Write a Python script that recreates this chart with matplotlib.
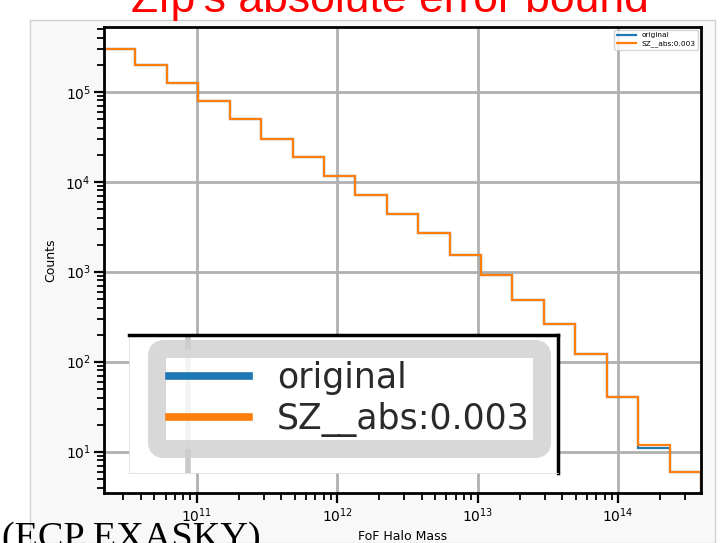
import numpy as np
import matplotlib
matplotlib.use("Agg")
import matplotlib.pyplot as plt
from matplotlib.patches import Rectangle
from matplotlib.lines import Line2D

# ---------------- data ----------------
series_names = ["original", "SZ__abs:0.003"]
log_mass_min, log_mass_max, n_bins = 10.34, 14.59, 19
counts_original = [2.98e5, 1.98e5, 1.25e5, 7.9e4, 4.98e4, 2.98e4, 1.87e4, 1.16e4,
                   7.1e3, 4.4e3, 2.67e3, 1.53e3, 920, 485, 262, 121, 40.6, 10.9, 5.9]
counts_sz = [2.98e5, 1.98e5, 1.25e5, 7.9e4, 4.98e4, 2.98e4, 1.87e4, 1.16e4,
             7.1e3, 4.4e3, 2.67e3, 1.53e3, 920, 485, 262, 123, 40.6, 11.9, 5.9]
title_text = "Zfp's absolute error bound"
footer_text = "(ECP EXASKY)"
x_label = "FoF Halo Mass"
y_label = "Counts"

edges = np.logspace(log_mass_min, log_mass_max, n_bins + 1)

W, H = 720, 543
fig = plt.figure(figsize=(W / 100, H / 100), dpi=100)
fig.patch.set_facecolor("white")

def fx(px):
    return px / W

def fy(py):
    return 1 - py / H

# chart image background/border
bg = Rectangle((fx(30), fy(543)), fx(715) - fx(30), fy(20) - fy(543),
               transform=fig.transFigure, facecolor="#f8f8f8",
               edgecolor="#d0d0d0", lw=1.0, zorder=-10)
fig.patches.append(bg)

ax = fig.add_axes([fx(104), fy(493), fx(701) - fx(104), fy(27) - fy(493)])
ax.set_facecolor("white")
ax.set_xscale("log")
ax.set_yscale("log")

colors = ["#1f77b4", "#ff7f0e"]
ax.stairs(counts_original, edges, baseline=1, color=colors[0], lw=1.6, label=series_names[0])
ax.stairs(counts_sz, edges, baseline=1, color=colors[1], lw=1.6, label=series_names[1])

ax.set_xlim(edges[0], edges[-1])
ax.set_ylim(10 ** 0.541, 10 ** 5.719)
ax.grid(True, which="major", color="#b0b0b0", lw=2.0)
ax.set_axisbelow(True)
for s in ax.spines.values():
    s.set_linewidth(2.0)
    s.set_color("black")
ax.tick_params(which="major", length=7, width=1.6, labelsize=10, direction="out", pad=2.5)
ax.tick_params(which="minor", length=5, width=1.3, direction="out")
ax.set_xlabel(x_label, fontsize=9, labelpad=4)
ax.set_ylabel(y_label, fontsize=9, labelpad=6)

leg_small = ax.legend(loc="upper right", fontsize=5.3, framealpha=0.8,
                      borderaxespad=0.35, handlelength=2.6, borderpad=0.35,
                      labelspacing=0.25)

# enlarged legend overlay
axi = fig.add_axes([fx(129), fy(473), fx(558) - fx(129), fy(335) - fy(473)])
axi.set_facecolor("white")
axi.set_xticks([])
axi.set_yticks([])
axi.set_xlim(0, 1)
axi.set_ylim(0, 1)
for side in ["top", "right"]:
    axi.spines[side].set_linewidth(2.5)
    axi.spines[side].set_color("black")
for side in ["left", "bottom"]:
    axi.spines[side].set_linewidth(0.6)
    axi.spines[side].set_color("#dddddd")
axi.axvline(0.1375, color="#c8c8c8", lw=4, zorder=1)
handles = [Line2D([], [], color=c, lw=5.5) for c in colors]
leg_big = axi.legend(handles, series_names, loc="upper left",
                     bbox_to_anchor=(0.065, 0.899), borderaxespad=0,
                     fontsize=25, handlelength=2.3, handletextpad=0.8,
                     labelspacing=0.2, borderpad=0.35, framealpha=0.8)
leg_big.get_frame().set_linewidth(13)
leg_big.get_frame().set_edgecolor("#cfcfcf")
for t in leg_big.get_texts():
    t.set_color("#2a2a2a")

# slide texts
fig.text(fx(390), fy(12), title_text, color="red", fontsize=32,
         family="Liberation Sans", ha="center", va="baseline")
fig.text(fx(2), fy(548), footer_text, color="black", fontsize=27.5,
         family="Liberation Serif", ha="left", va="baseline")

fig.savefig("out.png", dpi=100)
